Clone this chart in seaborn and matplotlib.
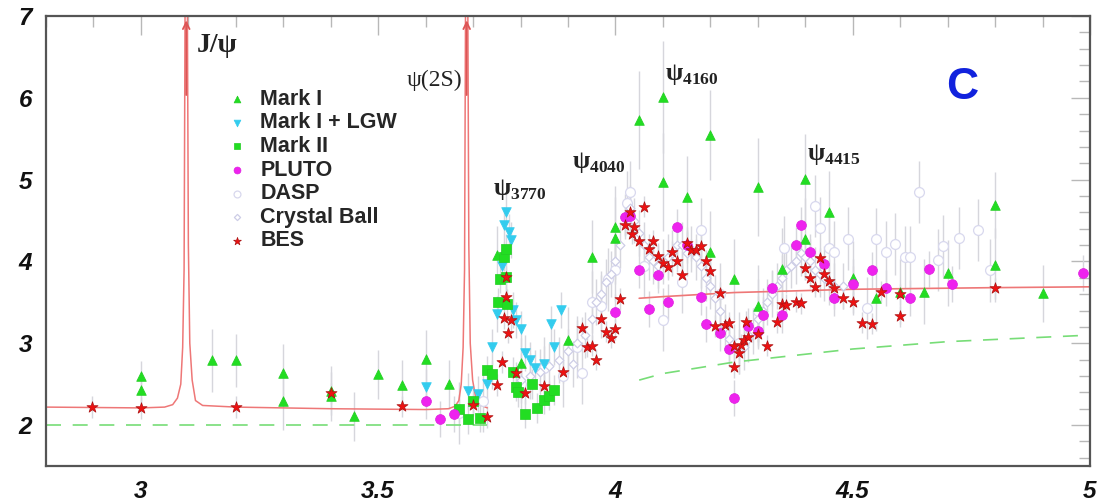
import numpy as np
import pandas as pd
import matplotlib
matplotlib.use("Agg")
import matplotlib.pyplot as plt
import seaborn as sns
from matplotlib.ticker import MultipleLocator, FixedLocator, FixedFormatter

# ---------------- data ----------------
marki_x = [3.0, 3.0, 3.15, 3.2, 3.3, 3.3, 3.4, 3.4, 3.45, 3.5, 3.55, 3.6, 3.65, 3.75, 3.80, 3.90, 3.95,
           4.0, 4.0, 4.05, 4.10, 4.10, 4.15, 4.20, 4.20, 4.25, 4.30, 4.30, 4.35, 4.40, 4.40, 4.45,
           4.50, 4.55, 4.60, 4.65, 4.70, 4.80, 4.80, 4.90]
marki_y = [2.60, 2.43, 2.79, 2.79, 2.64, 2.29, 2.42, 2.35, 2.11, 2.62, 2.49, 2.81, 2.50, 4.08, 2.76, 3.04, 4.06,
           4.42, 4.29, 5.73, 6.01, 4.97, 4.79, 5.55, 4.12, 3.78, 4.91, 3.46, 3.91, 5.01, 4.27, 4.60,
           3.80, 3.55, 3.63, 3.63, 3.86, 4.69, 3.96, 3.61]
marki_err = [0.18, 0.18, 0.38, 0.32, 0.35, 0.35, 0.30, 0.30, 0.30, 0.30, 0.30, 0.35, 0.30, 0.35, 0.30, 0.40, 0.45,
             0.50, 0.50, 0.60, 0.68, 0.60, 0.50, 0.55, 0.50, 0.50, 0.60, 0.50, 0.50, 0.55, 0.50, 0.50,
             0.45, 0.40, 0.40, 0.40, 0.40, 0.40, 0.45, 0.35]

lgw_x = [3.60, 3.69, 3.71, 3.73, 3.74, 3.75, 3.76, 3.765, 3.77, 3.775, 3.78, 3.785, 3.79, 3.80, 3.81,
         3.82, 3.83, 3.85, 3.865, 3.87, 3.885]
lgw_y = [2.47, 2.42, 2.38, 2.50, 2.96, 3.36, 3.94, 4.45, 4.61, 4.36, 4.26, 3.41, 3.29, 3.17, 2.88,
         2.79, 2.70, 2.75, 3.24, 2.95, 3.41]

markii_x = [3.67, 3.69, 3.70, 3.715, 3.73, 3.74, 3.753, 3.757, 3.765, 3.77, 3.77, 3.772, 3.785, 3.79,
            3.795, 3.81, 3.825, 3.835, 3.85, 3.86, 3.87]
markii_y = [2.20, 2.07, 2.30, 2.09, 2.67, 2.62, 3.50, 3.79, 4.06, 4.15, 3.81, 3.48, 2.65, 2.47,
            2.40, 2.14, 2.50, 2.21, 2.31, 2.36, 2.43]

pluto_x = [3.60, 3.63, 3.66, 4.00, 4.02, 4.03, 4.05, 4.07, 4.09, 4.11, 4.13, 4.15, 4.18, 4.19, 4.22,
           4.24, 4.25, 4.28, 4.30, 4.31, 4.33, 4.35, 4.38, 4.39, 4.41, 4.44, 4.46, 4.50, 4.54, 4.57,
           4.62, 4.66, 4.71, 4.985]
pluto_y = [2.29, 2.07, 2.13, 3.38, 4.54, 4.55, 3.89, 3.42, 3.83, 3.50, 4.42, 4.20, 3.57, 3.23, 3.13,
           2.93, 2.33, 3.21, 3.15, 3.35, 3.67, 3.35, 4.20, 4.44, 4.11, 3.97, 3.55, 3.72, 3.90, 3.67,
           3.55, 3.91, 3.73, 3.86]

dasp_x = [3.67, 3.72, 3.80, 3.85, 3.89, 3.92, 3.93, 3.95, 3.97, 3.985, 4.00, 4.025, 4.03, 4.06, 4.10,
          4.14, 4.18, 4.22, 4.26, 4.30, 4.355, 4.42, 4.43, 4.45, 4.46, 4.49, 4.53, 4.55, 4.57, 4.59,
          4.61, 4.62, 4.64, 4.68, 4.69, 4.725, 4.765, 4.79]
dasp_y = [2.15, 2.30, 2.50, 2.70, 2.60, 2.95, 2.64, 3.50, 3.45, 3.78, 3.90, 4.72, 4.85, 3.95, 3.29,
          3.75, 4.39, 3.60, 3.00, 3.40, 4.17, 4.68, 4.41, 4.17, 4.11, 4.28, 3.43, 4.27, 4.11, 4.21,
          4.05, 4.05, 4.85, 4.02, 4.19, 4.29, 4.38, 3.89]

cb_x = [3.80, 3.82, 3.84, 3.86, 3.88, 3.90, 3.91, 3.92, 3.935, 3.95, 3.96, 3.97, 3.98, 3.99, 4.00,
        4.01, 4.02, 4.03, 4.04, 4.05, 4.06, 4.07, 4.08, 4.09, 4.10, 4.11, 4.12, 4.13, 4.14, 4.15,
        4.16, 4.17, 4.18, 4.19, 4.20, 4.21, 4.22, 4.23, 4.24, 4.25, 4.26, 4.27, 4.28, 4.29, 4.30,
        4.31, 4.32, 4.33, 4.34, 4.35, 4.36, 4.37, 4.38, 4.39, 4.40, 4.41, 4.42, 4.43, 4.44, 4.45,
        4.46, 4.48, 4.50]
cb_y = [2.55, 2.60, 2.65, 2.72, 2.80, 2.90, 2.75, 3.00, 3.10, 3.30, 3.50, 3.60, 3.75, 3.85, 4.00,
        4.20, 4.55, 4.65, 4.50, 4.35, 4.20, 4.05, 4.00, 3.95, 4.00, 4.05, 4.10, 4.20, 4.20, 4.10,
        4.15, 4.05, 3.95, 3.80, 3.70, 3.55, 3.40, 3.20, 3.05, 2.95, 2.90, 2.95, 3.05, 3.15, 3.30,
        3.40, 3.50, 3.60, 3.70, 3.80, 3.90, 3.95, 4.00, 4.10, 4.05, 4.00, 3.90, 3.85, 3.80, 3.75,
        3.70, 3.70, 3.75]

bes_x = [2.896, 3.0, 3.2, 3.40, 3.55, 3.70, 3.73, 3.75, 3.76, 3.77, 3.77, 3.765, 3.78, 3.773, 3.79,
         3.81, 3.85, 3.89, 3.93, 3.94, 3.95, 3.96, 3.97, 3.98, 3.99, 4.00, 4.01, 4.02, 4.03, 4.035,
         4.04, 4.05, 4.06, 4.07, 4.08, 4.09, 4.10, 4.11, 4.12, 4.13, 4.14, 4.15, 4.16, 4.17, 4.18,
         4.19, 4.20, 4.21, 4.22, 4.23, 4.24, 4.25, 4.25, 4.26, 4.265, 4.27, 4.275, 4.28, 4.30, 4.32,
         4.34, 4.35, 4.36, 4.38, 4.39, 4.40, 4.41, 4.42, 4.43, 4.44, 4.45, 4.46, 4.48, 4.50, 4.52,
         4.54, 4.56, 4.60, 4.60, 4.80]
bes_y = [2.22, 2.21, 2.22, 2.39, 2.23, 2.24, 2.10, 2.49, 2.77, 3.81, 3.56, 3.31, 3.28, 3.13, 2.64,
         2.39, 2.48, 2.65, 3.19, 2.96, 2.97, 2.80, 3.30, 3.14, 3.07, 3.17, 3.54, 4.44, 4.60, 4.34,
         4.42, 4.25, 4.67, 4.15, 4.25, 4.07, 3.98, 3.93, 4.12, 4.00, 3.83, 4.23, 4.14, 4.14, 4.19,
         4.01, 3.88, 3.21, 3.62, 3.22, 3.25, 2.97, 2.71, 2.88, 2.98, 3.04, 3.26, 3.08, 3.11, 2.97,
         3.26, 3.48, 3.47, 3.51, 3.49, 3.92, 3.80, 3.69, 4.04, 3.85, 3.76, 3.67, 3.55, 3.50, 3.25,
         3.24, 3.63, 3.60, 3.33, 3.67]

# theory curves
res_x = [2.80, 3.00, 3.05, 3.067, 3.077, 3.084, 3.088, 3.091, 3.093, 3.098, 3.100, 3.103, 3.108,
         3.115, 3.13, 3.20, 3.40, 3.60, 3.648, 3.662, 3.670, 3.675, 3.679, 3.682, 3.684, 3.689,
         3.691, 3.694, 3.699, 3.706, 3.714, 3.73]
res_y = [2.22, 2.21, 2.22, 2.25, 2.33, 2.50, 2.95, 3.90, 7.00, 7.00, 4.20, 3.00, 2.55,
         2.30, 2.24, 2.22, 2.20, 2.19, 2.20, 2.23, 2.30, 2.50, 2.95, 3.90, 7.00, 7.00,
         4.20, 3.00, 2.55, 2.32, 2.25, 2.21]
qcd_x = [4.05, 4.10, 4.25, 4.50, 4.80, 5.00]
qcd_y = [3.55, 3.57, 3.62, 3.66, 3.68, 3.69]
naive_lo_x = [2.80, 3.73]
naive_lo_y = [2.00, 2.00]
naive_hi_x = [4.05, 4.10, 4.25, 4.50, 4.70, 5.00]
naive_hi_y = [2.55, 2.63, 2.77, 2.93, 3.02, 3.10]

# ---------------- figure ----------------
sns.set_style("white")
plt.rcParams["font.family"] = ["Liberation Sans", "DejaVu Sans"]
plt.rcParams["mathtext.fontset"] = "custom"
plt.rcParams["mathtext.rm"] = "Liberation Serif:bold"
plt.rcParams["mathtext.bf"] = "Liberation Serif:bold"

fig = plt.figure(figsize=(10.99, 5.03), dpi=100)
ax = fig.add_axes([46 / 1099, 37 / 503, 1044 / 1099, 450 / 503])

ecol = "#d6d6dc"
ax.errorbar(marki_x, marki_y, yerr=marki_err, fmt="none", ecolor=ecol, elinewidth=1, zorder=1)
ax.errorbar(dasp_x, dasp_y, yerr=0.38, fmt="none", ecolor=ecol, elinewidth=1, zorder=1)
ax.errorbar(cb_x, cb_y, yerr=0.28, fmt="none", ecolor=ecol, elinewidth=1, zorder=1)
ax.errorbar(pluto_x, pluto_y, yerr=0.22, fmt="none", ecolor=ecol, elinewidth=1, zorder=1)
ax.errorbar(bes_x, bes_y, yerr=0.13, fmt="none", ecolor=ecol, elinewidth=1, zorder=1)
ax.errorbar(lgw_x, lgw_y, yerr=0.22, fmt="none", ecolor=ecol, elinewidth=1, zorder=1)
ax.errorbar(markii_x, markii_y, yerr=0.18, fmt="none", ecolor=ecol, elinewidth=1, zorder=1)

red = "#ee7777"
green_d = "#77dd77"
sns.lineplot(x=res_x, y=res_y, sort=False, estimator=None, color=red, lw=1.1, ax=ax, zorder=2)
sns.lineplot(x=qcd_x, y=qcd_y, sort=False, estimator=None, color=red, lw=1.2, ax=ax, zorder=2)
for xs, ys in [(naive_lo_x, naive_lo_y), (naive_hi_x, naive_hi_y)]:
    sns.lineplot(x=xs, y=ys, sort=False, estimator=None, color=green_d, lw=1.2,
                 ax=ax, zorder=2).lines[-1].set_dashes([9, 7])

# arrows at the top of the narrow resonances
for xr in [3.0955, 3.6865]:
    ax.annotate("", xy=(xr, 6.98), xytext=(xr, 6.0),
                arrowprops=dict(arrowstyle="->", color="#dd5555", lw=1.3, mutation_scale=12),
                zorder=3)

sns.scatterplot(x=dasp_x, y=dasp_y, marker="o", s=50, facecolor="white", edgecolor="#d8d8ee",
                linewidth=0.9, ax=ax, zorder=3, label="DASP")
sns.scatterplot(x=cb_x, y=cb_y, marker="D", s=20, facecolor="white", edgecolor="#cdcde6",
                linewidth=0.9, ax=ax, zorder=3, label="Crystal Ball")
sns.scatterplot(x=marki_x, y=marki_y, marker="^", s=48, color="#22dd22", edgecolor="#22cc22",
                linewidth=0.5, ax=ax, zorder=4, label="Mark I")
sns.scatterplot(x=lgw_x, y=lgw_y, marker="v", s=48, color="#33ccee", edgecolor="#33ccee",
                linewidth=0.5, ax=ax, zorder=4, label="Mark I + LGW")
sns.scatterplot(x=markii_x, y=markii_y, marker="s", s=48, color="#22dd22", edgecolor="#22cc22",
                linewidth=0.5, ax=ax, zorder=4, label="Mark II")
sns.scatterplot(x=pluto_x, y=pluto_y, marker="o", s=50, color="#ee22ee", edgecolor="#dd22dd",
                linewidth=0.5, ax=ax, zorder=4, label="PLUTO")
sns.scatterplot(x=bes_x, y=bes_y, marker="*", s=70, color="#ee1111", edgecolor="#aa1111",
                linewidth=0.5, ax=ax, zorder=5, label="BES")

ax.set_xlim(2.8, 5.0)
ax.set_ylim(1.5, 7.0)
ax.set_xlabel("")
ax.set_ylabel("")

# legend in the reference order
handles, labels = ax.get_legend_handles_labels()
order = ["Mark I", "Mark I + LGW", "Mark II", "PLUTO", "DASP", "Crystal Ball", "BES"]
hmap = dict(zip(labels, handles))
leg = ax.legend([hmap[k] for k in order], order, loc="upper left",
                bbox_to_anchor=(0.162, 0.862), frameon=False, markerscale=0.7,
                handlelength=1.0, handletextpad=0.6, labelspacing=0.12, borderpad=0.0,
                prop=dict(family="Liberation Sans", weight="bold", size=15.5))

# annotations
ax.text(3.118, 6.64, "J/\u03c8", family="Liberation Serif", weight="bold", fontsize=20,
        ha="left", va="center", color="#222222")
ax.text(3.56, 6.21, "\u03c8(2S)", family="Liberation Serif", fontsize=17,
        ha="left", va="center", color="#222222")
for tx, ty, lab in [(3.742, 4.88, "3770"), (3.909, 5.21, "4040"),
                    (4.104, 6.29, "4160"), (4.404, 5.31, "4415")]:
    ax.text(tx, ty, r"$\mathrm{\psi}_{\mathrm{%s}}$" % lab, fontsize=18,
            ha="left", va="center", color="#222222")
ax.text(4.73, 6.12, "C", color="#1122dd", fontsize=32, weight="bold",
        ha="center", va="center")

# axes styling
for sp in ax.spines.values():
    sp.set_color("#555555")
    sp.set_linewidth(1.6)
ax.xaxis.set_major_locator(FixedLocator([3.0, 3.5, 4.0, 4.5, 5.0]))
ax.xaxis.set_major_formatter(FixedFormatter(["3", "3.5", "4", "4.5", "5"]))
ax.xaxis.set_minor_locator(MultipleLocator(0.1))
ax.yaxis.set_major_locator(FixedLocator([2, 3, 4, 5, 6, 7]))
ax.yaxis.set_major_formatter(FixedFormatter(["2", "3", "4", "5", "6", "7"]))
ax.yaxis.set_minor_locator(MultipleLocator(0.2))
ax.tick_params(which="both", direction="in", top=True, right=True, color="#b8b8b8", width=1)
ax.tick_params(which="major", length=14)
ax.tick_params(which="minor", length=8)
ax.tick_params(axis="x", which="major", pad=10)
ax.tick_params(axis="y", which="major", pad=10)
for lab in ax.get_xticklabels() + ax.get_yticklabels():
    lab.set_fontfamily("Liberation Sans")
    lab.set_fontweight("bold")
    lab.set_fontstyle("italic")
    lab.set_fontsize(17.5)
    lab.set_color("#111111")

fig.savefig("out.png", dpi=100, facecolor="white")
